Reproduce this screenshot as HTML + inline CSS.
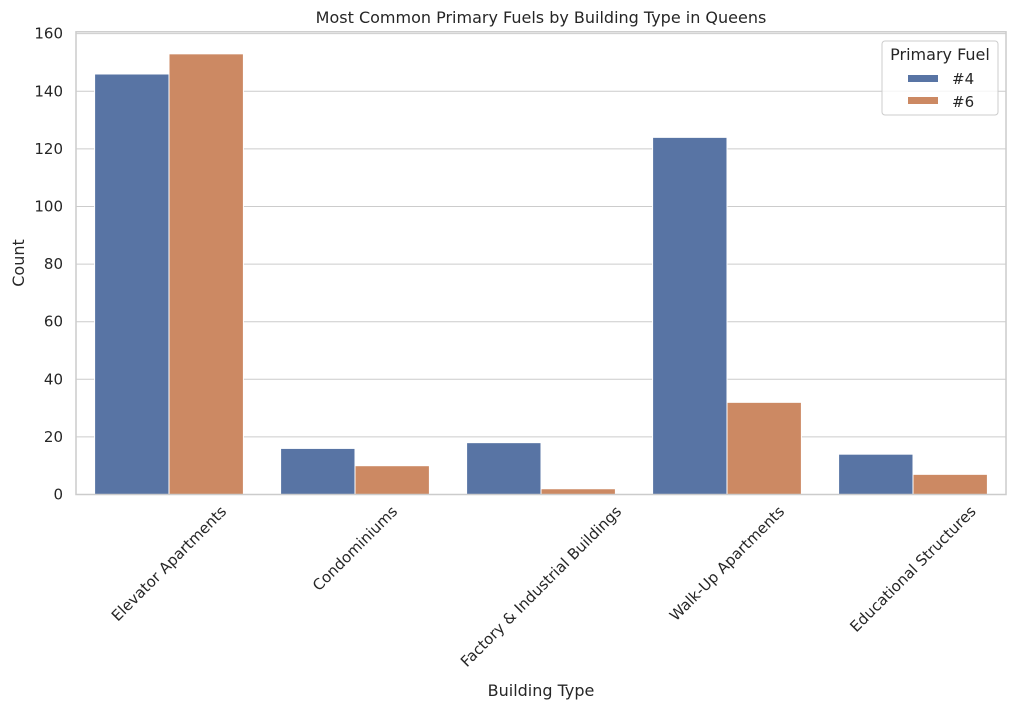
<!DOCTYPE html>
<html><head><meta charset="utf-8"><style>
body{margin:0;background:#fff;font-family:"DejaVu Sans","Liberation Sans",sans-serif;}
svg text{fill:#262626;font-family:"DejaVu Sans","Liberation Sans",sans-serif;}
</style></head><body>
<svg id="chart" width="1015" height="710" xmlns="http://www.w3.org/2000/svg">
<text x="541" y="23" font-size="16" text-anchor="middle">Most Common Primary Fuels by Building Type in Queens</text>
<g id="grid"></g><g id="bars"></g><g id="axes"></g>
<text x="541" y="696" font-size="16" text-anchor="middle">Building Type</text>
<text transform="translate(24,263) rotate(-90)" font-size="16" text-anchor="middle">Count</text>
<g>
<rect x="882" y="41" width="116" height="74" rx="3" fill="#fff" fill-opacity="0.8" stroke="#ccc"/>
<text x="940" y="60" font-size="16" text-anchor="middle">Primary Fuel</text>
<rect x="908" y="75" width="30" height="7" fill="#5874a4"/>
<text x="952" y="84" font-size="15">#4</text>
<rect x="908" y="97" width="30" height="7" fill="#cc8963"/>
<text x="952" y="107" font-size="15">#6</text>
</g>
</svg>
<script>
const categories=["Elevator Apartments","Condominiums","Factory & Industrial Buildings","Walk-Up Apartments","Educational Structures"];
const fuel4=[146,16,18,124,14];
const fuel6=[153,10,2,32,7];
const yTicks=[0,20,40,60,80,100,120,140,160];
const L=76,R=1006,B=494.5,T=31.8,YMAX=160.65;
const ns="http://www.w3.org/2000/svg";
const xs=i=>L+(i+0.5)*(R-L)/categories.length;
const ys=v=>B-v*(B-T)/YMAX;
function mk(t,a,p){const e=document.createElementNS(ns,t);for(const k in a)e.setAttribute(k,a[k]);p.appendChild(e);return e;}
const grid=document.getElementById('grid'),bars=document.getElementById('bars'),axes=document.getElementById('axes');
yTicks.forEach(v=>{
 const l=mk('line',{x1:L,x2:R,y1:ys(v),y2:ys(v),stroke:'#cccccc','stroke-width':1},grid);
 
 
 const t=mk('text',{x:L-13,y:ys(v)+5,'font-size':15,'text-anchor':'end'},axes);
 t.textContent=v;
 
 
});
const cw=(R-L)/categories.length, bw=cw*0.4;
categories.forEach((c,i)=>{
 const cx=xs(i);
 const b1=mk('rect',{x:cx-bw,y:ys(fuel4[i]),width:bw,height:B-ys(fuel4[i]),fill:'#5874a4',stroke:'#fff','stroke-width':1},bars);
 
 
 const b2=mk('rect',{x:cx,y:ys(fuel6[i]),width:bw,height:B-ys(fuel6[i]),fill:'#cc8963',stroke:'#fff','stroke-width':1},bars);
 
 
 const t=mk('text',{x:0,y:5,'font-size':15,'text-anchor':'middle'},axes);
 t.textContent=c;
 
 
 const w=t.getComputedTextLength(), h=15;
 const cy=B+9+(w+h)*0.7071/2;
 t.setAttribute('transform',`translate(${cx},${cy}) rotate(-45)`);
});
const fr=mk('rect',{x:L,y:T,width:R-L,height:B-T,fill:'none',stroke:'#cccccc','stroke-width':1.5},axes);


</script>
</body></html>
